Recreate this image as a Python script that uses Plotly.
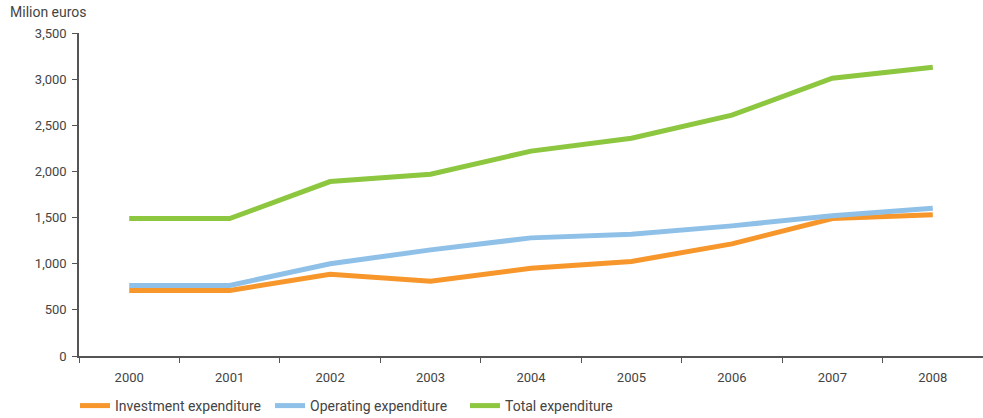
import plotly.graph_objects as go

years = ["2000", "2001", "2002", "2003", "2004", "2005", "2006", "2007", "2008"]
investment = [710, 710, 885, 810, 950, 1025, 1215, 1490, 1530]
operating = [765, 765, 1000, 1150, 1280, 1320, 1410, 1520, 1600]
total = [1490, 1490, 1890, 1970, 2220, 2360, 2610, 3010, 3130]

series = [
    ("Investment expenditure", investment, "#F7962B"),
    ("Operating expenditure", operating, "#8FC0E8"),
    ("Total expenditure", total, "#8DC63F"),
]

fig = go.Figure()
for name, vals, col in series:
    fig.add_trace(go.Scatter(x=years, y=vals, name=name, mode="lines",
                             line=dict(color=col, width=5)))

axis_col = "#555555"
fig.update_layout(
    width=983, height=418,
    margin=dict(l=79, r=0, t=33, b=62, autoexpand=False),
    plot_bgcolor="white", paper_bgcolor="white",
    font=dict(family="Roboto", size=13, color="#444444"),
    showlegend=True,
    legend=dict(orientation="h", x=75/983, xref="container", xanchor="left",
                y=1 - 406/418, yref="container", yanchor="middle",
                font=dict(size=14, color="#444444"),
                entrywidth=150, entrywidthmode="pixels",
                tracegroupgap=0),
    annotations=[dict(text="Milion euros", xref="paper", yref="paper",
                      x=-71/904, y=1 + 21/323, xanchor="left", yanchor="middle",
                      showarrow=False, font=dict(size=14, color="#444444"))],
)
fig.update_xaxes(type="category", range=[-0.5, len(years) - 0.5],
                 showline=True, linecolor=axis_col, linewidth=1.5,
                 ticks="outside", tickson="boundaries", ticklen=5,
                 tickcolor=axis_col, showgrid=False, zeroline=False,
                 ticklabelstandoff=9, automargin=False)
fig.update_yaxes(range=[0, 3500], dtick=500, tickformat=",", showline=True,
                 linecolor=axis_col, linewidth=1.5, ticks="outside", ticklen=5,
                 tickcolor=axis_col, showgrid=False, zeroline=False,
                 ticklabelstandoff=3, automargin=False)

fig.write_html("out.html", config={"displayModeBar": False},
               post_script="document.body.style.margin='0';")
